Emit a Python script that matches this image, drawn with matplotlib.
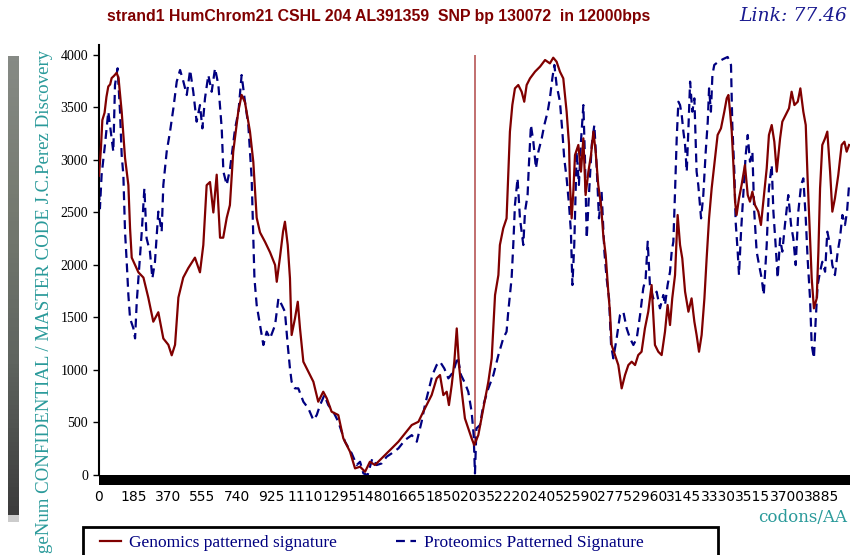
import numpy as np
import matplotlib
matplotlib.use("Agg")
import matplotlib.pyplot as plt
from matplotlib.colors import LinearSegmentedColormap
from matplotlib.patches import Rectangle

# genomic signature (red, solid)
gen_x = [0, 10, 18, 30, 40, 50, 60, 68, 80, 95, 105, 122, 140, 158, 167, 176, 194, 212, 239, 265,
         292, 319, 346, 373, 391, 409, 427, 453, 480, 516, 543, 561, 579, 597, 615, 633, 651, 668, 687, 704,
         722, 749, 767, 785, 812, 830, 848, 866, 893, 920, 947, 956, 973, 990, 1000, 1015, 1027, 1036, 1054, 1069,
         1081, 1099, 1126, 1153, 1179, 1206, 1225, 1251, 1287, 1314, 1350, 1377, 1404, 1431, 1457, 1484, 1511, 1538, 1574, 1610,
         1646, 1682, 1718, 1744, 1762, 1789, 1816, 1834, 1852, 1870, 1882, 1897, 1911, 1924, 1936, 1951, 1968, 1986, 2004, 2018,
         2040, 2067, 2094, 2112, 2130, 2148, 2156, 2174, 2192, 2201, 2210, 2223, 2237, 2255, 2273, 2287, 2300, 2318, 2345, 2372,
         2399, 2425, 2443, 2461, 2479, 2497, 2515, 2528, 2533, 2542, 2551, 2560, 2578, 2592, 2605, 2617, 2632, 2646, 2659, 2671,
         2685, 2700, 2712, 2725, 2739, 2748, 2757, 2775, 2793, 2811, 2829, 2847, 2865, 2883, 2900, 2918, 2936, 2954, 2972, 2990,
         3008, 3026, 3044, 3058, 3071, 3083, 3098, 3112, 3125, 3137, 3152, 3170, 3187, 3202, 3214, 3227, 3241, 3256, 3268, 3281,
         3295, 3313, 3327, 3345, 3363, 3376, 3385, 3394, 3403, 3412, 3421, 3429, 3442, 3456, 3474, 3489, 3501, 3514, 3528, 3546,
         3560, 3573, 3591, 3603, 3618, 3632, 3645, 3663, 3675, 3693, 3711, 3725, 3740, 3758, 3772, 3788, 3801, 3811, 3824, 3833,
         3845, 3860, 3869, 3878, 3890, 3905, 3917, 3932, 3944, 3958, 3976, 3994, 4009, 4021, 4034]
gen_y = [2850, 3100, 3380, 3450, 3600, 3700, 3720, 3780, 3800, 3830, 3780, 3460, 3020, 2760, 2350, 2070, 2000, 1930, 1880, 1690,
         1460, 1550, 1300, 1240, 1140, 1240, 1690, 1880, 1970, 2070, 1930, 2190, 2760, 2790, 2500, 2860, 2260, 2260, 2450, 2570,
         3080, 3460, 3620, 3550, 3270, 2980, 2450, 2310, 2220, 2120, 2000, 1840, 2070, 2320, 2412, 2190, 1873, 1333, 1492, 1650,
         1396, 1079, 984, 888, 698, 793, 730, 603, 571, 349, 222, 63, 79, 31, 126, 95, 142, 190, 253, 317,
         396, 476, 507, 603, 666, 761, 920, 952, 761, 793, 666, 857, 1079, 1396, 1047, 793, 539, 444, 349, 285,
         380, 634, 888, 1111, 1714, 1904, 2190, 2349, 2444, 2857, 3270, 3524, 3682, 3714, 3650, 3555, 3714, 3777, 3841, 3889,
         3952, 3920, 3974, 3936, 3841, 3777, 3460, 3143, 2762, 2444, 2698, 3047, 3143, 2889, 3206, 2666, 2889, 3047, 3270, 3079,
         2762, 2571, 2285, 2095, 1746, 1555, 1238, 1142, 1047, 825, 952, 1047, 1079, 1047, 1142, 1174, 1396, 1555, 1809, 1238,
         1174, 1142, 1365, 1619, 1428, 1682, 1904, 2476, 2190, 2063, 1746, 1555, 1682, 1460, 1333, 1174, 1333, 1682, 2063, 2444,
         2730, 3015, 3238, 3301, 3460, 3587, 3619, 3460, 3270, 2952, 2603, 2476, 2635, 2762, 2952, 2666, 2603, 2698, 2571, 2508,
         2381, 2603, 2920, 3238, 3333, 3174, 2889, 3206, 3365, 3428, 3492, 3650, 3523, 3555, 3682, 3460, 3333, 2825, 2254, 1873,
         1587, 1682, 2127, 2730, 3143, 3206, 3270, 2889, 2508, 2635, 2857, 3143, 3174, 3079, 3143]

# proteomic signature (blue, dashed)
prot_x = [0, 5, 14, 32, 50, 77, 86, 100, 113, 122, 131, 140, 149, 158, 167, 185, 194, 203, 212, 230,
          244, 256, 274, 287, 301, 319, 337, 346, 364, 382, 400, 418, 436, 454, 472, 490, 507, 525, 543, 556,
          570, 588, 606, 624, 642, 660, 669, 687, 705, 714, 732, 750, 767, 785, 803, 821, 836, 848, 866, 884,
          902, 920, 947, 965, 983, 1000, 1015, 1027, 1036, 1054, 1072, 1099, 1126, 1153, 1171, 1189, 1212, 1233, 1260, 1287,
          1323, 1359, 1386, 1404, 1422, 1445, 1470, 1493, 1520, 1547, 1574, 1610, 1646, 1682, 1709, 1735, 1753, 1771, 1793, 1816,
          1834, 1857, 1879, 1906, 1929, 1947, 1969, 1986, 2004, 2015, 2022, 2030, 2049, 2067, 2094, 2121, 2148, 2174, 2192, 2201,
          2219, 2228, 2237, 2251, 2264, 2282, 2291, 2305, 2312, 2323, 2336, 2350, 2363, 2381, 2395, 2413, 2425, 2438, 2449, 2461,
          2479, 2492, 2502, 2515, 2528, 2538, 2546, 2556, 2569, 2581, 2592, 2605, 2614, 2623, 2635, 2650, 2664, 2676, 2689, 2703,
          2718, 2730, 2743, 2754, 2766, 2784, 2802, 2820, 2838, 2856, 2874, 2892, 2910, 2927, 2940, 2951, 2963, 2981, 2999, 3017,
          3035, 3044, 3058, 3071, 3080, 3089, 3098, 3107, 3116, 3125, 3134, 3143, 3152, 3161, 3170, 3179, 3191, 3202, 3214, 3223,
          3238, 3250, 3263, 3274, 3281, 3291, 3299, 3309, 3331, 3358, 3381, 3399, 3406, 3417, 3424, 3435, 3442, 3453, 3465, 3478,
          3489, 3501, 3514, 3524, 3537, 3550, 3564, 3575, 3591, 3603, 3618, 3627, 3639, 3650, 3663, 3675, 3689, 3707, 3722, 3734,
          3747, 3761, 3776, 3788, 3801, 3811, 3824, 3833, 3845, 3854, 3865, 3878, 3890, 3905, 3917, 3932, 3944, 3958, 3973, 3985,
          3998, 4012, 4023, 4034]
prot_y = [2700, 2539, 2857, 3143, 3460, 3079, 3714, 3873, 3460, 3047, 2857, 2317, 2031, 1714, 1492, 1396, 1301, 1650, 1873, 2317,
          2730, 2254, 2127, 1873, 2031, 2508, 2317, 2762, 3079, 3270, 3492, 3746, 3857, 3746, 3619, 3857, 3650, 3365, 3523, 3301,
          3587, 3809, 3650, 3873, 3714, 3301, 2889, 2762, 2920, 3047, 3301, 3460, 3809, 3555, 3333, 2825, 1873, 1619, 1428, 1238,
          1365, 1301, 1428, 1682, 1619, 1555, 1238, 1015, 888, 825, 825, 698, 634, 523, 571, 666, 761, 666, 603, 507,
          317, 206, 95, 126, 15, 0, 158, 95, 110, 174, 206, 253, 333, 380, 317, 507, 666, 793, 952, 1047,
          1079, 1015, 920, 984, 1126, 952, 872, 793, 603, 380, 15, 444, 476, 666, 825, 952, 1142, 1301, 1365, 1555,
          1873, 2190, 2571, 2825, 2444, 2190, 2508, 2666, 2952, 3333, 3174, 2920, 3079, 3206, 3333, 3460, 3587, 3777, 3905, 3714,
          3555, 3270, 3016, 2825, 2571, 2317, 1809, 2190, 3079, 2762, 3174, 3523, 2984, 2254, 2666, 3143, 3333, 2952, 2444, 2698,
          2127, 1873, 1682, 1238, 1111, 1301, 1523, 1555, 1396, 1301, 1238, 1301, 1523, 1777, 1873, 2222, 1809, 1682, 1746, 1587,
          1714, 1619, 1809, 1936, 2127, 2222, 2698, 3206, 3555, 3523, 3428, 3270, 3143, 2889, 3301, 3746, 3460, 3587, 2889, 2762,
          2444, 2666, 3079, 3365, 3682, 3460, 3809, 3905, 3936, 3962, 3981, 3905, 3333, 2889, 2412, 2127, 1904, 2317, 2666, 3047,
          3238, 2984, 3079, 2508, 2127, 1999, 1873, 1714, 2190, 2730, 2952, 2508, 2190, 1873, 2254, 2127, 2381, 2666, 2381, 2254,
          1999, 2508, 2762, 2825, 2444, 2063, 1682, 1238, 1111, 1460, 1809, 1936, 2031, 1936, 2317, 2190, 1999, 1904, 2127, 2254,
          2476, 2381, 2508, 2762]

snp_x = 2022
xticks = [0, 185, 370, 555, 740, 925, 1110, 1295, 1480, 1665, 1850, 2035, 2220, 2405, 2590, 2775, 2960, 3145,
          3330, 3515, 3700, 3885]
yticks = [0, 500, 1000, 1500, 2000, 2500, 3000, 3500, 4000]

RED = '#800000'
BLUE = '#000080'
TEAL = '#2a9a9a'
SERIF = 'Liberation Serif'

fig = plt.figure(figsize=(8.53, 5.55), dpi=100)
ax = fig.add_axes([99/853, 80/555, 751/853, 430/555])

ax.vlines(snp_x, 300, 4000, color='#b04848', lw=1.1, zorder=1)
l1, = ax.plot(gen_x, gen_y, color=RED, lw=1.6, zorder=3)
l2, = ax.plot(prot_x, prot_y, color=BLUE, lw=1.6, dashes=(4, 2.5), zorder=2)

ax.set_xlim(0, 4039)
ax.set_ylim(0, 4095)
ax.set_xticks(xticks)
ax.set_yticks(yticks)
for lab in ax.get_xticklabels():
    lab.set_family(SERIF)
    lab.set_fontsize(9.5)
for lab in ax.get_yticklabels():
    lab.set_family(SERIF)
    lab.set_fontsize(10)
ax.tick_params(axis='x', length=0, pad=7)
ax.tick_params(axis='y', length=4.5, width=1, pad=3.5)

for s in ['top', 'right']:
    ax.spines[s].set_visible(False)
ax.spines['left'].set_linewidth(1.5)
ax.spines['bottom'].set_linewidth(7.2)
ax.spines['bottom'].set_capstyle('butt')
ax.spines['bottom'].set_position(('outward', 3.6))

# titles and labels
fig.text(379/853, 1 - 16/555, 'strand1 HumChrom21 CSHL 204 AL391359  SNP bp 130072  in 12000bps',
         ha='center', va='center', color=RED, fontweight='bold', family='Liberation Sans', fontsize=11.4)
fig.text(847/853, 1 - 16/555, 'Link: 77.46', ha='right', va='center', color='#1a1a90',
         style='italic', family='DejaVu Serif', fontsize=13.5)
fig.text(45/853, 1 - 301/555, 'geNum CONFIDENTIAL / MASTER CODE J.C.Perez Discovery', rotation=90,
         ha='center', va='center', color=TEAL, family=SERIF, fontsize=13.6)
fig.text(847/853, 1 - 517/555, 'codons/AA', ha='right', va='center', color=TEAL, family='DejaVu Serif',
         fontsize=12)

# grey gradient strip on the left
gray = LinearSegmentedColormap.from_list('strip', ['#868a85', '#757a70', '#5f645f', '#3c3c3c'])
gax = fig.add_axes([8/853, 1 - 515/555, 11/853, (515 - 56)/555])
gax.imshow(np.linspace(0, 1, 100).reshape(-1, 1), aspect='auto', cmap=gray)
gax.axis('off')
fig.patches.append(Rectangle((8/853, 1 - 522/555), 11/853, 7/555, transform=fig.transFigure,
                             facecolor='#cccccc', edgecolor='none'))

# legend box, cut by the lower edge like the original
fig.patches.append(Rectangle((83/853, -10/555), 635/853, 38/555, transform=fig.transFigure,
                             facecolor='white', edgecolor='black', lw=2))
leg = fig.legend([l1, l2], ['Genomics patterned signature', 'Proteomics Patterned Signature'],
                 loc='center left', bbox_to_anchor=(100/853, 1 - 543/555), ncol=2, frameon=False,
                 borderaxespad=0, borderpad=0, handlelength=1.2,
                 handletextpad=0.45, columnspacing=3.4,
                 prop={'family': SERIF, 'size': 12.5}, labelcolor=BLUE)

fig.savefig('out.png', dpi=100)
